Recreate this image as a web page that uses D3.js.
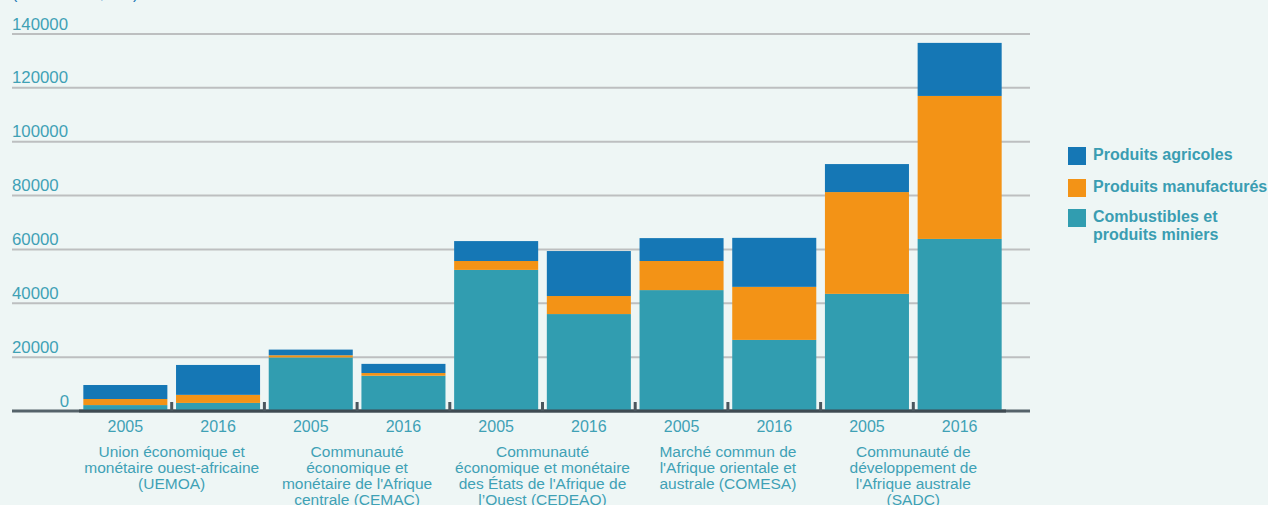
<!DOCTYPE html>
<html>
<head>
<meta charset="utf-8">
<script src="https://cdn.jsdelivr.net/npm/d3@7"></script>
<style>
  body { margin: 0; background: #eef6f5; }
  svg { display: block; font-family: "Liberation Sans", Arial, sans-serif; }
</style>
</head>
<body>
<svg width="1268" height="505"></svg>
<script>
// data (millions)
var groups = ["UEMOA", "CEMAC", "CEDEAO", "COMESA", "SADC"];
var groupLabels = [
    ["Union économique et", "monétaire ouest-africaine", "(UEMOA)"],
    ["Communauté", "économique et", "monétaire de l'Afrique", "centrale (CEMAC)"],
    ["Communauté", "économique et monétaire", "des États de l'Afrique de", "l’Ouest (CEDEAO)"],
    ["Marché commun de", "l'Afrique orientale et", "australe (COMESA)"],
    ["Communauté de", "développement de", "l'Afrique australe", "(SADC)"]
];
var years = ["2005", "2016"];
var combustibles = [2200, 3000, 19900, 13100, 52400, 36000, 44900, 26400, 43500, 63900];
var manufactures = [2250, 3000, 800, 1000, 3300, 6700, 10800, 19700, 37800, 53100];
var agricoles = [5200, 11100, 2100, 3400, 7400, 16700, 8500, 18200, 10400, 19700];
var yTicks = [0, 20000, 40000, 60000, 80000, 100000, 120000, 140000];
var seriesNames = ["Produits agricoles", "Produits manufacturés", "Combustibles et\nproduits miniers"];
var colors = { comb: "#319db0", manu: "#f39316", agri: "#1577b5" };
var textColor = "#3fa1b5";

var svg = d3.select("svg");

// one row per bar
var rows = [];
groups.forEach(function(g, gi) {
    years.forEach(function(y, yi) {
        var i = gi * 2 + yi;
        rows.push({ key: g + "-" + y, group: g, year: y,
            comb: combustibles[i], manu: manufactures[i], agri: agricoles[i] });
    });
});

var x = d3.scaleBand()
    .domain(rows.map(function(d) { return d.key; }))
    .range([79, 1006])
    .paddingInner(0.0935)
    .paddingOuter(0.0467);

var y = d3.scaleLinear()
    .domain([0, 140000])
    .range([411, 34]);

// partly cut title at very top
svg.append("text")
    .attr("x", 12).attr("y", -1)
    .attr("fill", "#1577b5")
    .style("font-size", "16px")
    .text("(millions de $ EU)");

// gridlines + y labels
var grid = svg.append("g");
grid.selectAll("line").data(yTicks).enter().append("line")
    .attr("x1", 12).attr("x2", 1030)
    .attr("y1", function(d) { return y(d); })
    .attr("y2", function(d) { return y(d); })
    .attr("stroke", function(d) { return d === 0 ? "#55636a" : "#bdbfc0"; })
    .attr("stroke-width", function(d) { return d === 0 ? 3 : 2; });

grid.selectAll("text").data(yTicks).enter().append("text")
    .attr("x", function(d) { return d === 0 ? 69 : 12; })
    .attr("text-anchor", function(d) { return d === 0 ? "end" : "start"; })
    .attr("y", function(d) { return y(d) - 4.5; })
    .attr("fill", textColor)
    .style("font-size", "16.8px")
    .text(function(d) { return d; });

// stacked bars
var stack = d3.stack().keys(["comb", "manu", "agri"]);
var layers = stack(rows);

svg.append("g").selectAll("g").data(layers).enter().append("g")
    .attr("fill", function(d) { return colors[d.key]; })
    .selectAll("rect").data(function(d) { return d; }).enter().append("rect")
    .attr("x", function(d) { return x(d.data.key); })
    .attr("width", x.bandwidth())
    .attr("y", function(d) { return y(d[1]); })
    .attr("height", function(d) { return y(d[0]) - y(d[1]); });

// x axis line
svg.append("line")
    .attr("x1", 79).attr("x2", 1006)
    .attr("y1", y(0)).attr("y2", y(0))
    .attr("stroke", "#3f4b52")
    .attr("stroke-width", 3);

// tick marks between bars
var step = x.step();
svg.append("g").selectAll("line").data(rows.slice(0, rows.length - 1)).enter().append("line")
    .attr("x1", function(d) { return x(d.key) + x.bandwidth() + (step - x.bandwidth()) / 2; })
    .attr("x2", function(d) { return x(d.key) + x.bandwidth() + (step - x.bandwidth()) / 2; })
    .attr("y1", y(0) - 9).attr("y2", y(0))
    .attr("stroke", "#4a575e")
    .attr("stroke-width", 3);

// year labels
svg.append("g").selectAll("text").data(rows).enter().append("text")
    .attr("x", function(d) { return x(d.key) + x.bandwidth() / 2; })
    .attr("y", 432)
    .attr("text-anchor", "middle")
    .attr("fill", textColor)
    .style("font-size", "16px")
    .text(function(d) { return d.year; });

// group labels
svg.append("g").selectAll("text").data(groups).enter().append("text")
    .attr("x", function(d) { return (x(d + "-2005") + x(d + "-2016") + x.bandwidth()) / 2; })
    .attr("y", 457)
    .attr("text-anchor", "middle")
    .attr("fill", textColor)
    .style("font-size", "15.5px")
    .each(function(d, i) {
        var t = d3.select(this);
        groupLabels[i].forEach(function(line, li) {
            t.append("tspan")
                .attr("x", t.attr("x"))
                .attr("dy", li === 0 ? 0 : 16)
                .text(line);
        });
    });

// legend
var legendColors = [colors.agri, colors.manu, colors.comb];
var legendY = [147, 179, 209];
var legend = svg.append("g").selectAll("g").data(seriesNames).enter().append("g")
    .attr("transform", function(d, i) { return "translate(1068," + legendY[i] + ")"; });

legend.append("rect")
    .attr("width", 18).attr("height", 18)
    .attr("fill", function(d, i) { return legendColors[i]; });

legend.append("text")
    .attr("x", 25).attr("y", 13)
    .attr("fill", "#3a9db2")
    .style("font-size", "16px")
    .style("font-weight", "bold")
    .each(function(d) {
        var t = d3.select(this);
        d.split("\n").forEach(function(line, li) {
            t.append("tspan").attr("x", 25).attr("dy", li === 0 ? 0 : 18).text(line);
        });
    });
</script>
</body>
</html>
